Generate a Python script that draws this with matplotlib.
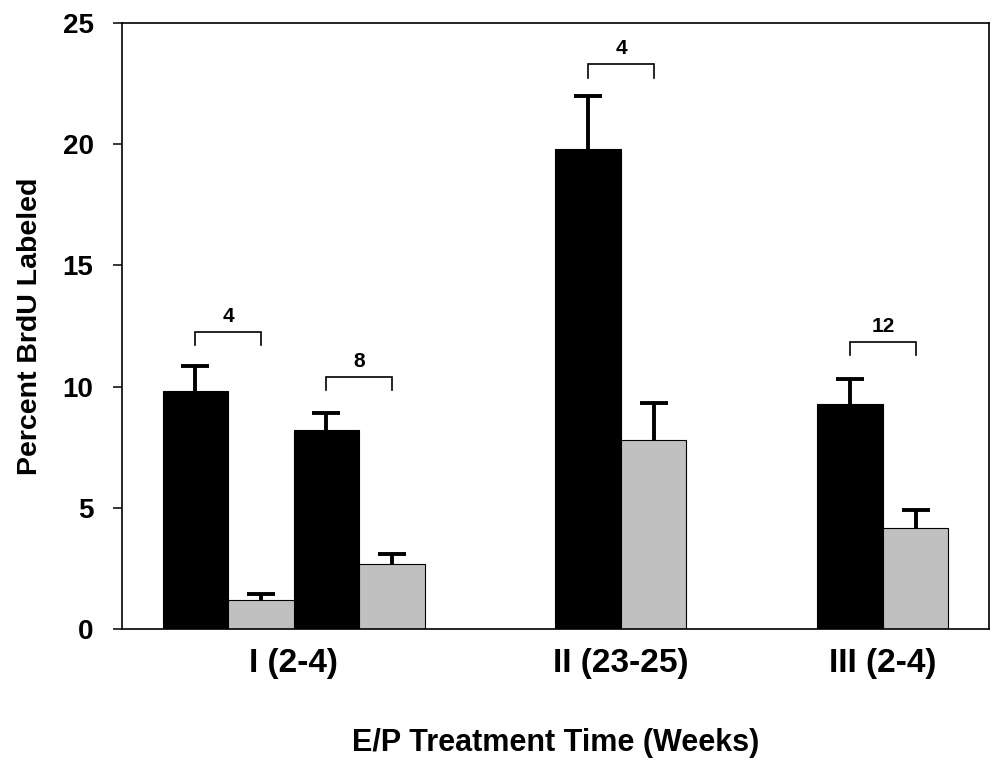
import matplotlib
matplotlib.use("Agg")
import matplotlib.pyplot as plt
import numpy as np

plt.rcParams['font.family'] = ['Liberation Sans', 'DejaVu Sans']
plt.rcParams['font.weight'] = 'bold'

groups = ["I (2-4)", "II (23-25)", "III (2-4)"]
black_vals = [9.8, 8.2, 19.8, 9.3]
black_err = [1.03, 0.7, 2.17, 1.0]
gray_vals = [1.18, 2.68, 7.8, 4.18]
gray_err = [0.26, 0.4, 1.51, 0.73]
bracket_labels = ["4", "8", "4", "12"]
bracket_tops = [12.25, 10.4, 23.3, 11.84]

fig = plt.figure(figsize=(10.04, 7.63), dpi=100)
ax = fig.add_axes([122/1004, 134/763, 867/1004, 606/763])

pair_left = np.array([1.12, 3.12, 7.12, 11.12])
w = 1.0
n = len(black_vals)
ax.bar(pair_left, black_vals, width=w, color='black', edgecolor='black', linewidth=0.8, zorder=2)
ax.bar(pair_left + w, gray_vals, width=w, color='#c0c0c0', edgecolor='black', linewidth=0.8, zorder=2)

for xs, vals, errs in [(pair_left, black_vals, black_err), (pair_left + w, gray_vals, gray_err)]:
    vals = np.array(vals)
    errs = np.array(errs)
    ax.errorbar(xs, vals, yerr=[np.zeros(n), errs], fmt='none', ecolor='black',
                elinewidth=2.8, capsize=0, zorder=3)
    ax.plot(xs, vals + errs, ls='none', marker='_', ms=20, mew=2.8, color='black', zorder=3)

for i in range(n):
    x0 = pair_left[i]
    x1 = pair_left[i] + w
    t = bracket_tops[i]
    ax.plot([x0, x0, x1, x1], [t - 0.55, t, t, t - 0.55], color='black', lw=1.2,
            solid_joinstyle='miter', zorder=3)
    ax.text((x0 + x1) / 2, t + 0.42, bracket_labels[i], ha='center', va='baseline',
            fontsize=15, fontweight='bold')

group_centers = [pair_left[0] + 1.5, pair_left[2] + 0.5, pair_left[3] + 0.5]
ax.set_xticks(group_centers)
ax.set_xticklabels(groups, fontsize=24, fontweight='bold')
ax.tick_params(axis='x', length=0, pad=14)
ax.set_xlim(0, 13.24)
ax.set_ylim(0, 25)
ax.set_yticks([0, 5, 10, 15, 20, 25])
ax.tick_params(axis='y', direction='out', length=6.5, width=1.1, labelsize=20, pad=14)
for lab in ax.get_yticklabels():
    lab.set_fontweight('bold')
for s in ax.spines.values():
    s.set_linewidth(1.2)

ax.set_ylabel("Percent BrdU Labeled", fontsize=20.5, fontweight='bold', labelpad=14)
ax.set_xlabel("E/P Treatment Time (Weeks)", fontsize=22, fontweight='bold', labelpad=35)

fig.savefig("out.png", dpi=100, facecolor='white')
